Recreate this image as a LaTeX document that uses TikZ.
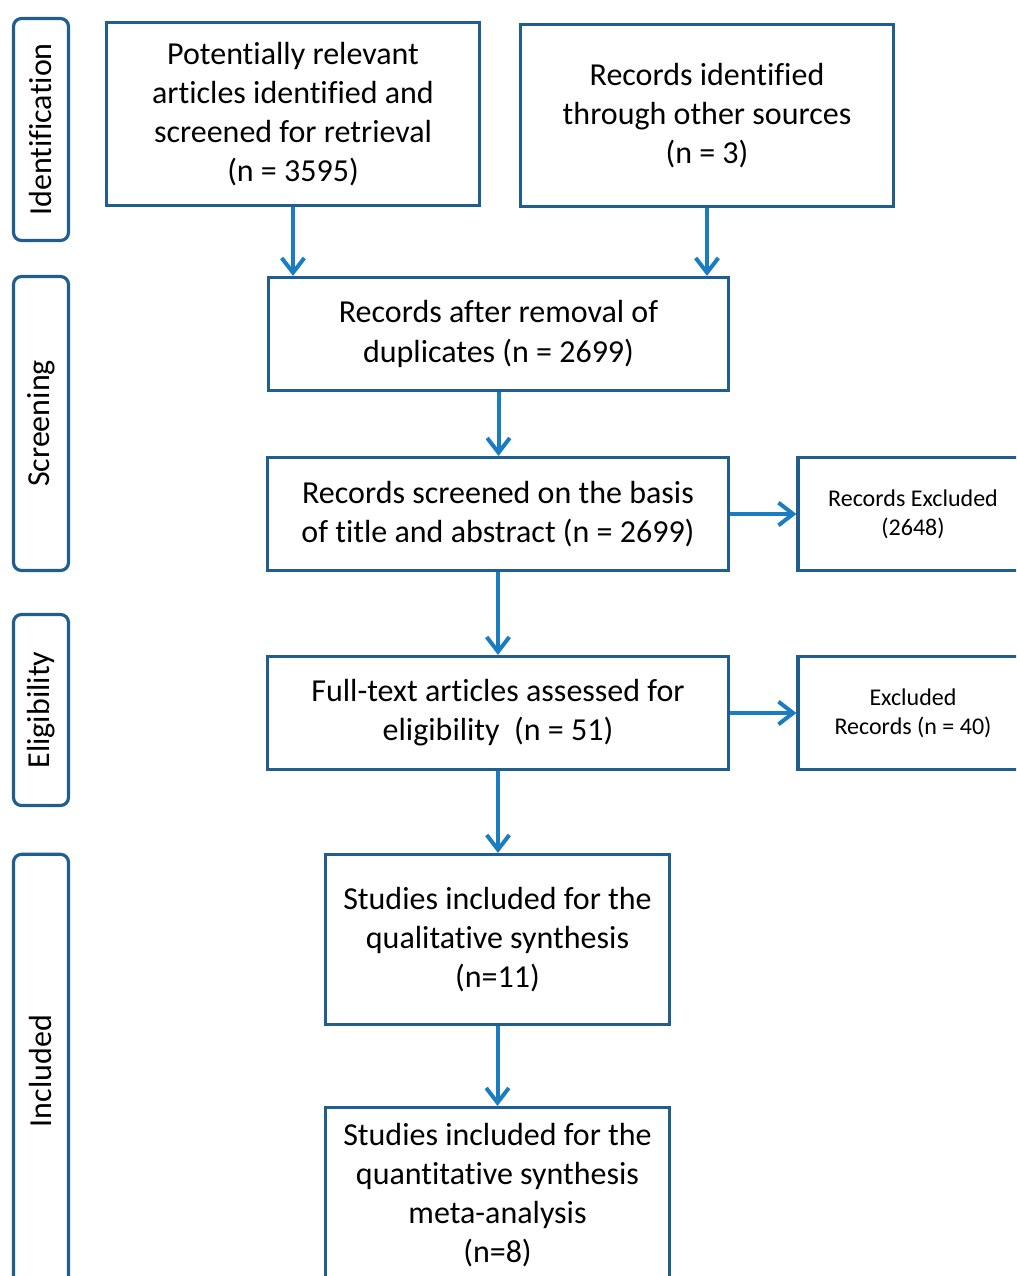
\documentclass[tikz,border=0pt]{standalone}
\usepackage{fontspec}
\setmainfont{Carlito}[RawFeature={-liga;-clig;-calt;-dlig;-rlig}]
\usepackage{tikz}
\usetikzlibrary{arrows.meta, positioning}
\usepackage{xcolor}
\definecolor{boxblue}{RGB}{31,94,143}
\definecolor{arrowblue}{RGB}{26,125,193}

\begin{document}
\begin{tikzpicture}[x=0.75pt, y=-0.75pt,
  every node/.style={draw=boxblue, line width=2.4pt, align=center, inner sep=2pt},
  box/.style={rectangle, font=\fontsize{24pt}{29.3pt}\selectfont},
  smallbox/.style={rectangle, font=\fontsize{18pt}{21.8pt}\selectfont},
  phase/.style={rectangle, rounded corners=6pt, rotate=90, minimum height=41.25pt, font=\fontsize{24pt}{29.3pt}\selectfont},
  flow/.style={draw=arrowblue, line width=3pt, -{Straight Barb[length=11pt, width=17pt]}}]
\useasboundingbox (0,0) rectangle (1016,1276);
\clip (0,0) rectangle (1016,1276);
% phase labels
\node[phase, minimum width=166.5pt] (ident) at (41,129.5) {Identification};
\node[phase, minimum width=220.5pt] (screen) at (41,423.5) {Screening};
\node[phase, minimum width=143.25pt] (elig) at (41,710) {Eligibility};
\node[phase, minimum width=325pt] (incl) at (41,1071) {Included};
% flow boxes
\node[box, minimum width=279.75pt, minimum height=137.25pt] (found) at (293,114) {Potentially relevant\\articles identified and\\screened for retrieval\\(n = 3595)};
\node[box, minimum width=279.75pt, minimum height=136.5pt] (other) at (707,115.5) {Records identified\\through other sources\\(n = 3)};
\node[box, minimum width=345pt, minimum height=84.75pt] (dedup) at (498.5,334) {Records after removal of\\duplicates (n = 2699)};
\node[box, minimum width=345.75pt, minimum height=84.75pt] (screened) at (498,514) {Records screened on the basis\\of title and abstract (n = 2699)};
\node[smallbox, minimum width=172.5pt, minimum height=84.75pt] (excl1) at (913,514) {Records Excluded\\(2648)};
\node[box, minimum width=345.75pt, minimum height=84.75pt] (fulltext) at (498,713) {Full-text articles assessed for\\eligibility~ (n = 51)};
\node[smallbox, minimum width=172.5pt, minimum height=84.75pt] (excl2) at (913,713) {Excluded\\Records (n = 40)};
\node[box, minimum width=258pt, minimum height=127.5pt] (qual) at (497.5,939.5) {Studies included for the\\qualitative synthesis\\(n=11)};
\node[box, minimum width=258pt, minimum height=131.25pt] (quant) at (497.5,1195) {Studies included for the\\quantitative synthesis\\meta-analysis\\(n=8)};
% connectors
\draw[flow] (found.south) -- (found.south |- dedup.north);
\draw[flow] (other.south) -- (other.south |- dedup.north);
\draw[flow] (dedup.south) -- (dedup.south |- screened.north);
\draw[flow] (screened.east) -- (excl1.west);
\draw[flow] (screened.south) -- (screened.south |- fulltext.north);
\draw[flow] (fulltext.east) -- (excl2.west);
\draw[flow] (fulltext.south) -- (fulltext.south |- qual.north);
\draw[flow] (qual.south) -- (quant.north);
\end{tikzpicture}
\end{document}
